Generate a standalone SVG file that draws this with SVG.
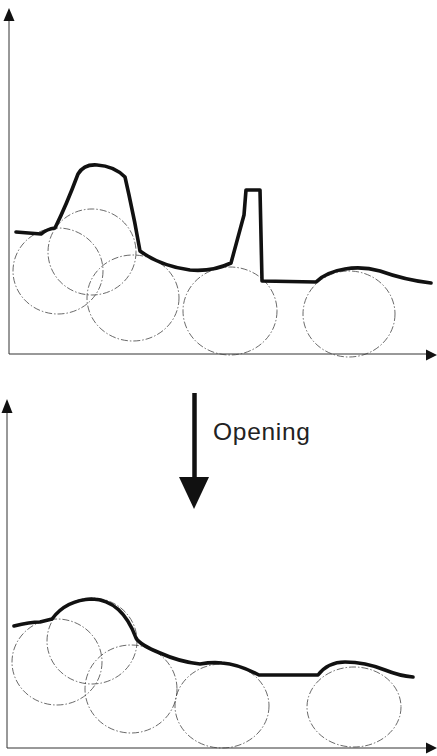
<svg xmlns="http://www.w3.org/2000/svg" width="437" height="756" viewBox="0 0 437 756">
<style>
.axis{stroke:#333;stroke-width:1;fill:none}
.head{fill:#111}
.grain{fill:none;stroke:#444;stroke-width:0.8;stroke-dasharray:7 2 1.5 2}
.profile{fill:none;stroke:#111;stroke-width:3.6;stroke-linejoin:round;stroke-linecap:round}
.label{font-family:"Liberation Sans",Arial,sans-serif;font-size:24.5px;fill:#222}
</style>
<rect width="437" height="756" fill="#fff"/>
<g id="top-panel">
  <g id="top-axes">
    <line class="axis" x1="9" y1="18" x2="9" y2="354"/>
    <line class="axis" x1="9" y1="354" x2="428" y2="354"/>
    <polygon class="head" points="9,8 14.5,21 3.5,21"/>
    <polygon class="head" points="437,355 426,349.5 426,360.5"/>
  </g>
  <g id="top-grains">
    <ellipse class="grain" cx="58" cy="271" rx="45" ry="43"/>
    <ellipse class="grain" cx="92" cy="252" rx="44" ry="43"/>
    <ellipse class="grain" cx="133" cy="298" rx="46" ry="43"/>
    <ellipse class="grain" cx="230" cy="311" rx="47" ry="44"/>
    <ellipse class="grain" cx="349" cy="314" rx="46" ry="43"/>
  </g>
  <path id="top-profile" class="profile" d="M16,232 L41,234 Q47,229 55,228 Q66,206 78,174 Q84,164 97,165 Q114,166 125,177 L129,195 Q135,222 140,251 Q160,266 190,270 Q212,272 231,263 L244,215 L246,190 L260,190 L262,281 L316,282 Q326,272 345,269 Q362,266 380,271 Q405,280 431,283"/>
</g>
<g id="opening-arrow">
  <line x1="194.5" y1="393" x2="194.5" y2="480" stroke="#111" stroke-width="4.5"/>
  <polygon class="head" points="179,477 209,477 194,509"/>
  <text class="label" x="213" y="440" textLength="97" lengthAdjust="spacing">Opening</text>
</g>
<g id="bottom-panel">
  <g id="bottom-axes">
    <line class="axis" x1="7" y1="410" x2="7" y2="748"/>
    <line class="axis" x1="7" y1="748" x2="428" y2="748"/>
    <polygon class="head" points="7,399 12.5,413 1.5,413"/>
    <polygon class="head" points="437,748 426,742.5 426,753.5"/>
  </g>
  <g id="bottom-grains">
    <ellipse class="grain" cx="57" cy="662" rx="45" ry="43"/>
    <ellipse class="grain" cx="92" cy="641" rx="45" ry="43"/>
    <ellipse class="grain" cx="131" cy="689" rx="46" ry="44"/>
    <ellipse class="grain" cx="222" cy="706" rx="47" ry="42"/>
    <ellipse class="grain" cx="354" cy="707" rx="47" ry="40"/>
  </g>
  <path id="bottom-profile" class="profile" d="M14,626 Q30,622 40,622 L52,619 Q66,600 92,599 Q122,600 136,638 Q140,645 160,653 Q180,662 200,664 Q212,662 222,663 Q238,664 259,675 L318,675 Q328,662 345,662 Q365,662 385,670 Q400,676 413,677"/>
</g>
</svg>
